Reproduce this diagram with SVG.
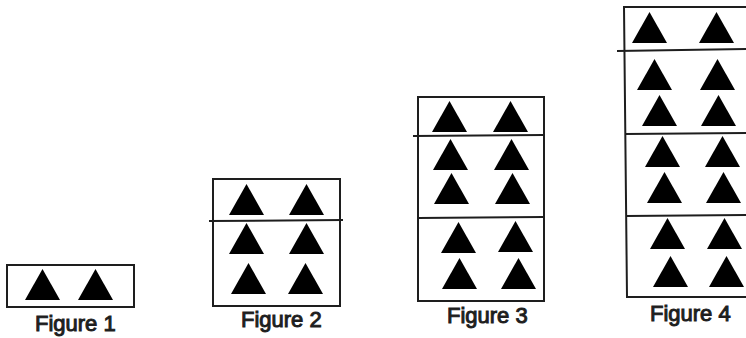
<svg xmlns="http://www.w3.org/2000/svg" xmlns:xlink="http://www.w3.org/1999/xlink" width="746" height="338" viewBox="0 0 746 338">
<style>
.box{fill:none;stroke:#1e1e1e;stroke-width:2}
.div{stroke:#1e1e1e;stroke-width:2}
.tri{fill:#000}
.lbl{font-family:"Liberation Sans",Arial,sans-serif;font-size:22px;fill:#1e1e1e;stroke:#1e1e1e;stroke-width:1}
</style>
<defs>
<path id="t" d="M0,0 L17.5,-31 L35,0 Z" class="tri"/>
</defs>
<rect width="746" height="338" fill="#fff"/>
<g id="figure1">
<rect class="box" x="7" y="265" width="127" height="42"/>
<use xlink:href="#t" x="25" y="300"/>
<use xlink:href="#t" x="78" y="300"/>
<text class="lbl" x="35" y="331">Figure 1</text>
</g>
<g id="figure2">
<rect class="box" x="213" y="179" width="127" height="127"/>
<line class="div" x1="209" y1="221" x2="343" y2="220"/>
<use xlink:href="#t" x="229" y="215"/>
<use xlink:href="#t" x="289" y="215"/>
<use xlink:href="#t" x="229" y="254"/>
<use xlink:href="#t" x="289" y="254"/>
<use xlink:href="#t" x="231" y="294"/>
<use xlink:href="#t" x="288" y="294"/>
<text class="lbl" x="241" y="327">Figure 2</text>
</g>
<g id="figure3">
<rect class="box" x="418" y="97" width="126" height="204"/>
<line class="div" x1="413" y1="136" x2="544" y2="135"/>
<line class="div" x1="418" y1="218" x2="544" y2="217"/>
<use xlink:href="#t" x="432" y="132"/>
<use xlink:href="#t" x="493" y="132"/>
<use xlink:href="#t" x="433" y="170"/>
<use xlink:href="#t" x="494" y="170"/>
<use xlink:href="#t" x="434" y="204"/>
<use xlink:href="#t" x="495" y="204"/>
<use xlink:href="#t" x="441" y="253"/>
<use xlink:href="#t" x="498" y="252"/>
<use xlink:href="#t" x="442" y="289"/>
<use xlink:href="#t" x="501" y="289"/>
<text class="lbl" x="447" y="323">Figure 3</text>
</g>
<g id="figure4">
<path class="box" d="M752,7 L624,7 L627,297 L752,297"/>
<line class="div" x1="617" y1="51" x2="746" y2="49"/>
<line class="div" x1="625" y1="134" x2="746" y2="133"/>
<line class="div" x1="626" y1="216" x2="746" y2="215"/>
<use xlink:href="#t" x="632" y="43"/>
<use xlink:href="#t" x="699" y="43"/>
<use xlink:href="#t" x="637" y="90"/>
<use xlink:href="#t" x="700" y="90"/>
<use xlink:href="#t" x="642" y="126"/>
<use xlink:href="#t" x="701" y="126"/>
<use xlink:href="#t" x="645" y="167"/>
<use xlink:href="#t" x="705" y="167"/>
<use xlink:href="#t" x="647" y="203"/>
<use xlink:href="#t" x="706" y="203"/>
<use xlink:href="#t" x="650" y="249"/>
<use xlink:href="#t" x="707" y="249"/>
<use xlink:href="#t" x="653" y="287"/>
<use xlink:href="#t" x="709" y="287"/>
<text class="lbl" x="650" y="321">Figure 4</text>
</g>
</svg>
